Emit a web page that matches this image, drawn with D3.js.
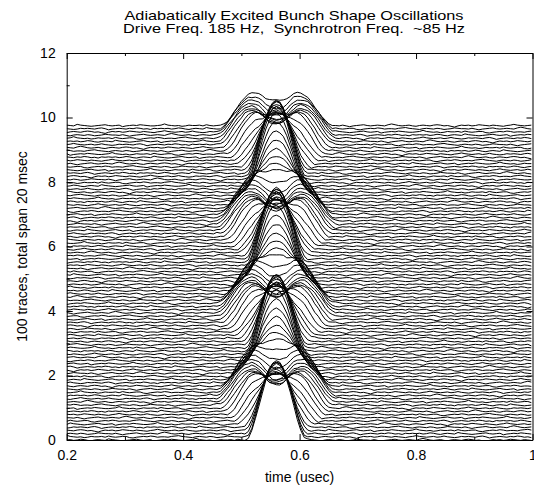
<!DOCTYPE html>
<html>
<head>
<meta charset="utf-8">
<script src="https://cdn.jsdelivr.net/npm/d3@7"></script>
<style>
  body { margin: 0; background: #fff; }
  svg text { font-family: "Liberation Sans", Arial, Helvetica, sans-serif; font-size: 14px; fill: #000; }
  .domain { stroke: #000; }
  .tick line { stroke: #000; }
</style>
</head>
<body>
<div id="vis"></div>
<script>

// ---------------- data ----------------
var titleLines = ["Adiabatically Excited Bunch Shape Oscillations",
                  "Drive Freq. 185 Hz,  Synchrotron Freq.  ~85 Hz"];
var xLabel = "time (usec)";
var yLabel = "100 traces, total span 20 msec";

var xTicks = [0.2, 0.4, 0.6, 0.8, 1];
var xMinorTicks = [0.3, 0.5, 0.7, 0.9];
var yTicks = [0, 2, 4, 6, 8, 10, 12];
var yMinorTicks = [1, 3, 5, 7, 9, 11];

// trace spacing on the y axis and bunch centre (usec)
var traceOffset = 0.0985;
var bunchCentre = 0.56;
var bunchHalfLength = 0.052;

// peak height of each trace above its own baseline (trace 0 = bottom)
var peakHeight = [
  2.40, 2.36, 2.24, 2.07, 1.88, 1.70, 1.54, 1.39, 1.28, 1.18,
  1.11, 1.06, 1.03, 1.01, 1.01, 1.02, 1.05, 1.10, 1.16, 1.25,
  1.36, 1.49, 1.65, 1.83, 2.01, 2.19, 2.32, 2.39, 2.37, 2.27,
  2.12, 1.94, 1.76, 1.59, 1.44, 1.31, 1.21, 1.13, 1.08, 1.04,
  1.01, 1.00, 1.02, 1.04, 1.08, 1.14, 1.22, 1.32, 1.45, 1.60,
  1.77, 1.96, 2.14, 2.29, 2.37, 2.38, 2.31, 2.17, 2.00, 1.81,
  1.63, 1.48, 1.35, 1.24, 1.15, 1.09, 1.05, 1.02, 1.01, 1.01,
  1.03, 1.06, 1.12, 1.19, 1.29, 1.41, 1.55, 1.72, 1.90, 2.09,
  2.25, 2.36, 2.40, 2.35, 2.22, 2.05, 1.87, 1.68, 1.52, 1.38,
  1.27, 1.18, 1.11, 1.06, 1.02, 1.00, 0.98, 0.99, 1.00, 1.02
];

// half distance between the two humps of each trace (usec)
var humpSpread = [
  0.000, 0.001, 0.002, 0.005, 0.008, 0.013, 0.018, 0.023, 0.028, 0.032,
  0.036, 0.040, 0.042, 0.043, 0.043, 0.042, 0.040, 0.037, 0.034, 0.029,
  0.024, 0.019, 0.014, 0.010, 0.006, 0.004, 0.001, 0.000, 0.000, 0.002,
  0.004, 0.007, 0.012, 0.016, 0.020, 0.026, 0.030, 0.035, 0.038, 0.041,
  0.043, 0.043, 0.042, 0.041, 0.038, 0.035, 0.030, 0.025, 0.020, 0.016,
  0.011, 0.007, 0.004, 0.001, 0.000, 0.000, 0.001, 0.004, 0.006, 0.011,
  0.014, 0.019, 0.024, 0.029, 0.034, 0.037, 0.041, 0.042, 0.043, 0.043,
  0.042, 0.040, 0.036, 0.031, 0.026, 0.022, 0.017, 0.012, 0.008, 0.005,
  0.002, 0.000, 0.000, 0.001, 0.002, 0.005, 0.008, 0.013, 0.018, 0.023,
  0.028, 0.032, 0.036, 0.040, 0.042, 0.043, 0.043, 0.042, 0.040, 0.037
];

// pickup noise, hundredths of a y unit
var wiggle = [
  0,1,-1,0,2,1,-1,-2,0,1,0,-1,3,1,0,-1,-2,-1,0,1,2,0,-1,0,1,-3,-1,0,1,0,
  2,1,0,-1,-1,0,1,4,1,0,-1,0,-2,-1,1,0,0,1,-1,2,0,-1,0,1,1,-2,-3,-1,0,1,
  0,2,1,-1,0,0,-1,1,2,3,1,0,-1,-2,0,1,0,-1,1,0,-2,-1,0,2,1,0,0,-1,1,-1,
  -3,-1,0,1,2,0,-1,0,1,0,-1,2,4,2,0,-1,0,1,-1,-2,0,1,0,-1,1,2,1,-1,0,-2,
  -4,-1,1,0,1,-1,0,2,1,0,-1,1,0,-1,-2,0,1,3,1,0,-1,0,1,-1,0,2,0,-1,-2,-1,
  1,0,1,0,-1,1,2,0,-3,-1,0,1,0,-1,1,0,2,1,-1,0,-2,1,0,1
];

var sampleStep = 0.006;

// ---------------- chart ----------------
var width = 534, height = 489;
var margin = { left: 66.7, right: 532.5, top: 53, bottom: 440 };

var x = d3.scaleLinear().domain([0.2, 1]).range([margin.left, margin.right]);
var y = d3.scaleLinear().domain([0, 12]).range([margin.bottom, margin.top]);

var svg = d3.select("#vis").append("svg")
  .attr("width", width).attr("height", height);

svg.append("defs").append("clipPath").attr("id", "plotClip")
  .append("rect")
  .attr("x", margin.left).attr("y", margin.top)
  .attr("width", margin.right - margin.left)
  .attr("height", margin.bottom - margin.top);

// bunch profile: two smooth humps, normalised to a unit peak
function kernel(d, r) {
  var q = 1 - (d / r) * (d / r);
  return q > 0 ? q * q : 0;
}
function profile(d, s) {
  var r = bunchHalfLength + 0.2 * s;
  var top = 0;
  for (var t = 0; t <= s + r; t += 0.0005) {
    top = Math.max(top, kernel(t - s, r) + kernel(t + s, r));
  }
  return (kernel(d - s, r) + kernel(d + s, r)) / top;
}

var xs = d3.range(0, Math.round(0.8 / sampleStep) + 1).map(function (j) { return 0.2 + j * sampleStep; });

var traces = d3.range(peakHeight.length).map(function (k) {
  var base = k * traceOffset;
  return xs.map(function (xv, j) {
    var n = wiggle[(j + 37 * k) % wiggle.length] * 0.012;
    return [xv, base + peakHeight[k] * profile(xv - bunchCentre, humpSpread[k]) + n];
  });
});

var line = d3.line()
  .x(function (d) { return x(d[0]); })
  .y(function (d) { return y(d[1]); });

svg.append("g").attr("clip-path", "url(#plotClip)")
  .selectAll("path.trace")
  .data(traces)
  .enter().append("path")
  .attr("class", "trace")
  .attr("d", line)
  .attr("fill", "none")
  .attr("stroke", "#000")
  .attr("stroke-width", 1);

// ---------------- axes ----------------
var gx = svg.append("g").attr("transform", "translate(0," + margin.bottom + ")")
  .call(d3.axisBottom(x).tickValues(xTicks).tickSizeInner(-6).tickSizeOuter(0)
    .tickPadding(12).tickFormat(d3.format("")));
gx.selectAll("text").attr("dy", "0.6em");

svg.append("g").attr("transform", "translate(0," + margin.bottom + ")")
  .call(d3.axisBottom(x).tickValues(xMinorTicks).tickSizeInner(-3).tickSizeOuter(0).tickFormat(""))
  .select(".domain").remove();

svg.append("g").attr("transform", "translate(0," + margin.top + ")")
  .call(d3.axisTop(x).tickValues(xTicks).tickSizeInner(-6).tickSizeOuter(0).tickFormat(""));
svg.append("g").attr("transform", "translate(0," + margin.top + ")")
  .call(d3.axisTop(x).tickValues(xMinorTicks).tickSizeInner(-3).tickSizeOuter(0).tickFormat(""))
  .select(".domain").remove();

svg.append("g").attr("transform", "translate(" + margin.left + ",0)")
  .call(d3.axisLeft(y).tickValues(yTicks).tickSizeInner(-6).tickSizeOuter(0).tickPadding(11));
svg.append("g").attr("transform", "translate(" + margin.left + ",0)")
  .call(d3.axisLeft(y).tickValues(yMinorTicks).tickSizeInner(-3).tickSizeOuter(0).tickFormat(""))
  .select(".domain").remove();

svg.append("g").attr("transform", "translate(" + margin.right + ",0)")
  .call(d3.axisRight(y).tickValues(yTicks).tickSizeInner(-6).tickSizeOuter(0).tickFormat(""));

svg.selectAll(".tick text").style("font-size", "14px");

// ---------------- labels ----------------
svg.append("text").attr("x", 294).attr("y", 19.5).attr("text-anchor", "middle")
  .attr("textLength", 339).attr("lengthAdjust", "spacingAndGlyphs")
  .style("font-size", "13px")
  .text(titleLines[0]);
svg.append("text").attr("x", 294).attr("y", 32.5).attr("text-anchor", "middle")
  .attr("textLength", 342).attr("lengthAdjust", "spacingAndGlyphs")
  .style("font-size", "13px").style("white-space", "pre")
  .text(titleLines[1]);

svg.append("text").attr("x", (margin.left + margin.right) / 2).attr("y", 482)
  .attr("text-anchor", "middle").text(xLabel);

svg.append("text")
  .attr("transform", "translate(27," + (margin.top + margin.bottom) / 2 + ") rotate(-90)")
  .attr("text-anchor", "middle").text(yLabel);

</script>
</body>
</html>
